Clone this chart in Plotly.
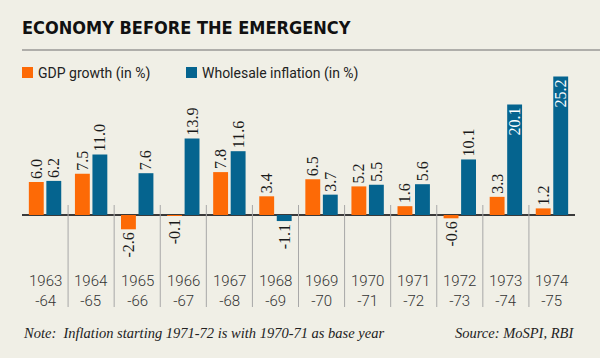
import plotly.graph_objects as go

categories = ["1963-64", "1964-65", "1965-66", "1966-67", "1967-68", "1968-69",
              "1969-70", "1970-71", "1971-72", "1972-73", "1973-74", "1974-75"]
tick_labels = ["1963<br>-64", "1964<br>-65", "1965<br>-66", "1966<br>-67", "1967<br>-68",
               "1968<br>-69", "1969<br>-70", "1970<br>-71", "1971<br>-72", "1972<br>-73",
               "1973<br>-74", "1974<br>-75"]
gdp_growth = [6.0, 7.5, -2.6, -0.1, 7.8, 3.4, 6.5, 5.2, 1.6, -0.6, 3.3, 1.2]
wholesale_inflation = [6.2, 11.0, 7.6, 13.9, 11.6, -1.1, 3.7, 5.5, 5.6, 10.1, 20.1, 25.2]

W, H = 600, 358
ML, MR, MT, MB = 22, 25, 60, 48
PW = W - ML - MR
PH = H - MT - MB

def px_x(px):
    return (px - ML) / PW

def px_y(py):
    return (H - MB - py) / PH

BG = "#f0efe6"
ORANGE = "#fd6a06"
BLUE = "#05648f"
LABEL_FONT = "Liberation Serif, DejaVu Serif, serif"
SANS = "Roboto, Liberation Sans, sans-serif"

def fmt(v):
    return f"{v:.1f}"

infl_pos = ["inside" if v >= 20 else "outside" for v in wholesale_inflation]
infl_col = ["white" if p == "inside" else "#1a1a1a" for p in infl_pos]

fig = go.Figure()
fig.add_trace(go.Bar(
    x=categories, y=gdp_growth, name="GDP growth (in %)",
    marker=dict(color=ORANGE, line=dict(width=0)),
    text=[fmt(v) for v in gdp_growth], textposition="outside", textangle=-90,
    textfont=dict(family=LABEL_FONT, size=16, color="#1a1a1a"),
    constraintext="none", cliponaxis=False,
))
fig.add_trace(go.Bar(
    x=categories, y=wholesale_inflation, name="Wholesale inflation (in %)",
    marker=dict(color=BLUE, line=dict(width=0)),
    text=[fmt(v) for v in wholesale_inflation], textposition=infl_pos, textangle=-90,
    insidetextanchor="end",
    textfont=dict(family=LABEL_FONT, size=16, color=infl_col),
    constraintext="none", cliponaxis=False,
))

# y scale: 5.5 px per unit, zero at y=215 px
ppu = 5.5
zero_py = 215
y_top = (zero_py - MT) / ppu
y_bot = (zero_py - (H - MB)) / ppu

shapes = []
# title rule
shapes.append(dict(type="line", xref="paper", yref="paper", x0=px_x(22), x1=px_x(600),
                   y0=px_y(50), y1=px_y(50), line=dict(color="#6e6e6e", width=1.2)))
# separators
for i in range(len(categories) - 1):
    shapes.append(dict(type="line", xref="x", yref="paper", x0=i + 0.5, x1=i + 0.5,
                       y0=px_y(205), y1=px_y(307), line=dict(color="#a8a8a8", width=1)))
# legend squares
shapes.append(dict(type="rect", xref="paper", yref="paper", x0=px_x(22), x1=px_x(33),
                   y0=px_y(78), y1=px_y(67), fillcolor=ORANGE, line=dict(width=0)))
shapes.append(dict(type="rect", xref="paper", yref="paper", x0=px_x(186), x1=px_x(197),
                   y0=px_y(78), y1=px_y(67), fillcolor=BLUE, line=dict(width=0)))

annotations = []
annotations.append(dict(text="<b>ECONOMY BEFORE THE EMERGENCY</b>", xref="paper", yref="paper",
                        x=px_x(20), y=px_y(27), xanchor="left", yanchor="middle", showarrow=False,
                        font=dict(family="DejaVu Sans Condensed, DejaVu Sans, sans-serif",
                                  size=18, color="#111111")))
annotations.append(dict(text="GDP growth (in %)", xref="paper", yref="paper",
                        x=px_x(36), y=px_y(73), xanchor="left", yanchor="middle", showarrow=False,
                        font=dict(family=SANS, size=14, color="#222222")))
annotations.append(dict(text="Wholesale inflation (in %)", xref="paper", yref="paper",
                        x=px_x(200), y=px_y(73), xanchor="left", yanchor="middle", showarrow=False,
                        font=dict(family=SANS, size=14, color="#222222")))
for i, t in enumerate(tick_labels):
    annotations.append(dict(text=t, xref="x", yref="paper", x=categories[i], y=px_y(291),
                            xanchor="center", yanchor="middle", showarrow=False, align="center",
                            font=dict(family=SANS, size=15, color="#333333", weight=300)))
annotations.append(dict(text="<i>Note:  Inflation starting 1971-72 is with 1970-71 as base year</i>",
                        xref="paper", yref="paper", x=px_x(21), y=px_y(333), xanchor="left",
                        yanchor="middle", showarrow=False,
                        font=dict(family=LABEL_FONT, size=14.5, color="#222222")))
annotations.append(dict(text="<i>Source: MoSPI, RBI</i>",
                        xref="paper", yref="paper", x=px_x(576), y=px_y(333), xanchor="right",
                        yanchor="middle", showarrow=False,
                        font=dict(family=LABEL_FONT, size=14.5, color="#222222")))

fig.update_layout(
    width=W, height=H,
    margin=dict(l=ML, r=MR, t=MT, b=MB, pad=0),
    paper_bgcolor=BG, plot_bgcolor=BG,
    barmode="group", bargap=0.24, bargroupgap=0.15,
    showlegend=False,
    xaxis=dict(showticklabels=False, showgrid=False, showline=False, ticks="",
               range=[-0.5, len(categories) - 0.5], fixedrange=True),
    yaxis=dict(range=[y_bot, y_top], showticklabels=False, showgrid=False, showline=False,
               zeroline=True, zerolinecolor="#3a3a3a", zerolinewidth=1.5, fixedrange=True),
    shapes=shapes, annotations=annotations,
    uniformtext=dict(mode=False),
)

fig.write_html("out.html", config={"displayModeBar": False},
               post_script="document.body.style.margin='0';document.body.style.background='" + BG + "';")
